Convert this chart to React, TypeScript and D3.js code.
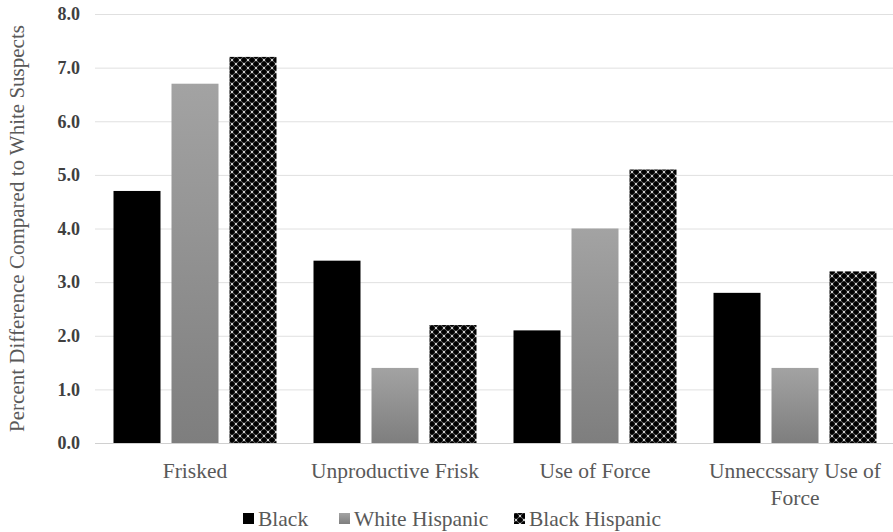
import React from "react";
import { scaleBand, scaleLinear } from "d3";

const categories = ["Frisked", "Unproductive Frisk", "Use of Force", "Unneccssary Use of Force"];
const categoryLines = [["Frisked"], ["Unproductive Frisk"], ["Use of Force"], ["Unneccssary Use of", "Force"]];
const seriesNames = ["Black", "White Hispanic", "Black Hispanic"];
const black = [4.7, 3.4, 2.1, 2.8];
const whiteHispanic = [6.7, 1.4, 4.0, 1.4];
const blackHispanic = [7.2, 2.2, 5.1, 3.2];
const yTicks = [0, 1, 2, 3, 4, 5, 6, 7, 8];

const W = 893;
const H = 532;
const FONT = "Liberation Serif";

const margin = { top: 14, left: 95, bottom: 89, right: -2 };
const x = scaleBand<string>().domain(categories).range([margin.left, W - margin.right]);
const inner = scaleBand<string>()
  .domain(seriesNames)
  .range([18.5, 200 - 18.5])
  .paddingInner(11 / 58);
const y = scaleLinear().domain([0, 8]).range([H - margin.bottom, margin.top]);

const fills = ["#000000", "url(#wh)", "url(#bh)"];
const series = [black, whiteHispanic, blackHispanic];
const legendX = [243, 339, 514];

// checker pattern pieces for Black Hispanic
const diamonds = [
  [0, 0],
  [8, 0],
  [0, 8],
  [8, 8],
  [4, 4],
];
const dots = [
  [4, 0],
  [0, 4],
  [8, 4],
  [4, 8],
];

const App = () => (
  <svg width={W} height={H} style={{ position: "absolute", left: 0, top: 0, background: "#fff" }}>
    <defs>
      <linearGradient id="wh" x1={0} y1={0} x2={0} y2={1}>
        <stop offset="0%" stopColor="#a3a3a3" />
        <stop offset="100%" stopColor="#7e7e7e" />
      </linearGradient>
      <pattern id="bh" patternUnits="userSpaceOnUse" width={8} height={8}>
        <rect width={8} height={8} fill="#747474" />
        {diamonds.map(([cx, cy], i) => (
          <path
            key={i}
            d={`M${cx - 3.5},${cy}L${cx},${cy - 3.5}L${cx + 3.5},${cy}L${cx},${cy + 3.5}Z`}
            fill="#000"
          />
        ))}
        {dots.map(([cx, cy], i) => (
          <circle key={i} cx={cx} cy={cy} r={1.2} fill="#d0d0d0" />
        ))}
      </pattern>
    </defs>

    {/* gridlines */}
    {yTicks.map((d) => (
      <line
        key={d}
        x1={margin.left}
        x2={W}
        y1={y(d) + 0.5}
        y2={y(d) + 0.5}
        stroke={d === 0 ? "#d0d0d0" : "#e0e0e0"}
      />
    ))}

    {/* y tick labels */}
    {yTicks.map((d) => (
      <text
        key={d}
        x={80}
        y={y(d)}
        dy="0.35em"
        textAnchor="end"
        fontFamily={FONT}
        fontWeight="bold"
        fontSize={18}
        fill="#404040"
      >
        {d.toFixed(1)}
      </text>
    ))}

    {/* y axis title */}
    <text
      transform={`translate(24,${(y(0) + y(8)) / 2}) rotate(-90)`}
      textAnchor="middle"
      fontFamily={FONT}
      fontSize={21}
      fill="#595959"
    >
      Percent Difference Compared to White Suspects
    </text>

    {/* bars */}
    {series.map((vals, si) =>
      vals.map((v, i) => (
        <rect
          key={`${si}-${i}`}
          x={(x(categories[i]) || 0) + (inner(seriesNames[si]) || 0)}
          y={y(v)}
          width={inner.bandwidth()}
          height={y(0) - y(v)}
          fill={fills[si]}
        />
      ))
    )}

    {/* category labels */}
    {categories.map((c, i) => {
      const cx = (x(c) || 0) + x.bandwidth() / 2;
      return (
        <text key={c} x={cx} y={478} textAnchor="middle" fontFamily={FONT} fontSize={21.5} fill="#595959">
          {categoryLines[i].map((l, li) => (
            <tspan key={li} x={cx} dy={li === 0 ? 0 : 27}>
              {l}
            </tspan>
          ))}
        </text>
      );
    })}

    {/* legend */}
    {seriesNames.map((s, i) => (
      <g key={s}>
        <rect x={legendX[i]} y={513} width={11} height={11} fill={fills[i]} />
        <text x={legendX[i] + 15} y={526} fontFamily={FONT} fontSize={21.5} fill="#595959">
          {s}
        </text>
      </g>
    ))}
  </svg>
);

export default App;
